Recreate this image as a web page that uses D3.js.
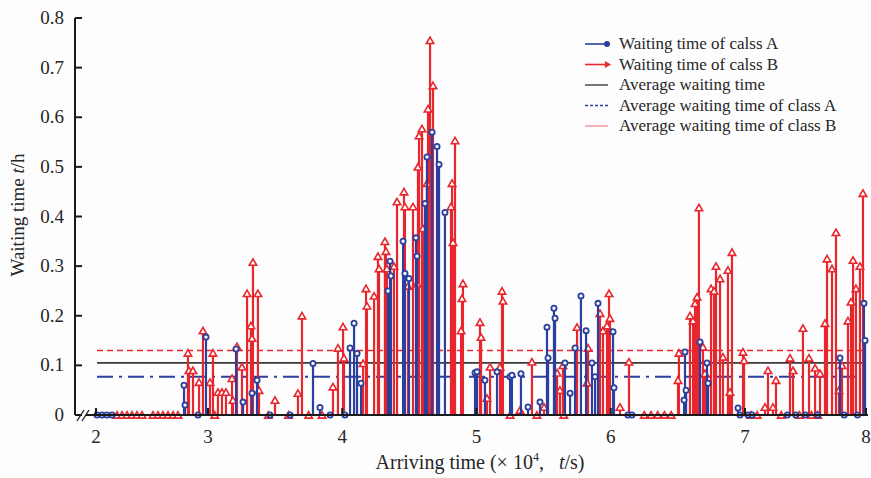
<!DOCTYPE html>
<html>
<head>
<meta charset="utf-8">
<script src="https://cdn.jsdelivr.net/npm/d3@7"></script>
<style>
	body { margin: 0; background: #fdfdfd; }
	svg { display: block; font-family: "Liberation Serif", "Times New Roman", serif; }
</style>
</head>
<body>
<svg id="chart" width="871" height="478"></svg>
<script>
// arriving time (x 10^4 s) and waiting time (h) for class A (blue circles)
var classAX = [2.009, 2.054, 2.098, 2.143, 2.786, 2.795, 2.911, 2.982, 3.209, 3.261, 3.328, 3.365,
	3.462, 3.611, 3.782, 3.834, 3.909, 4.020, 4.058, 4.088, 4.110, 4.140, 4.341, 4.356, 4.363,
	4.453, 4.467, 4.497, 4.549, 4.557, 4.616, 4.631, 4.669, 4.706, 4.721, 4.765, 4.989, 5.004,
	5.063, 5.153, 5.250, 5.264, 5.331, 5.384, 5.473, 5.525, 5.533, 5.577, 5.585, 5.659, 5.697,
	5.734, 5.778, 5.816, 5.860, 5.883, 5.905, 6.017, 6.024, 6.128, 6.158, 6.546, 6.553, 6.561,
	6.665, 6.717, 6.725, 6.948, 6.963, 7.025, 7.058, 7.350, 7.420, 7.500, 7.600, 7.785, 7.820,
	7.930, 7.983, 7.992];
var classAY = [0, 0, 0, 0, 0.06, 0.02, 0, 0.157, 0.133, 0.026, 0.044, 0.07,
	0, 0, 0.104, 0.015, 0, 0, 0.135, 0.185, 0.124, 0.064, 0.25, 0.31, 0.28,
	0.35, 0.285, 0.275, 0.357, 0.32, 0.426, 0.52, 0.57, 0.541, 0.505, 0.408, 0.085, 0.087,
	0.07, 0.087, 0.077, 0.08, 0.083, 0.016, 0.026, 0.177, 0.115, 0.215, 0.195, 0.105, 0.044,
	0.135, 0.24, 0.17, 0.105, 0.077, 0.225, 0.168, 0.055, 0, 0, 0.03, 0.127, 0.05,
	0.147, 0.105, 0.064, 0.014, 0, 0, 0, 0, 0, 0, 0, 0.115, 0,
	0, 0.225, 0.15];

// class B (red triangles)
var classBX = [2.188, 2.232, 2.277, 2.321, 2.366, 2.411, 2.509, 2.554, 2.598, 2.643, 2.688, 2.732,
	2.821, 2.830, 2.866, 2.920, 2.955, 3.015, 3.037, 3.050, 3.074, 3.104, 3.134, 3.179, 3.186,
	3.216, 3.253, 3.291, 3.320, 3.328, 3.335, 3.372, 3.380, 3.450, 3.499, 3.600, 3.670, 3.700,
	3.750, 3.850, 3.931, 3.968, 4.006, 4.013, 4.155, 4.177, 4.184, 4.237, 4.266, 4.274, 4.318,
	4.326, 4.333, 4.385, 4.408, 4.460, 4.467, 4.490, 4.527, 4.557, 4.564, 4.572, 4.594, 4.601,
	4.631, 4.639, 4.654, 4.676, 4.810, 4.818, 4.825, 4.840, 4.885, 4.892, 4.899, 5.026, 5.034,
	5.078, 5.101, 5.175, 5.190, 5.197, 5.250, 5.324, 5.413, 5.450, 5.503, 5.600, 5.622, 5.644,
	5.650, 5.749, 5.823, 5.831, 5.920, 5.942, 5.972, 5.987, 5.994, 6.069, 6.136, 6.250, 6.300,
	6.350, 6.400, 6.450, 6.501, 6.508, 6.590, 6.613, 6.628, 6.643, 6.657, 6.687, 6.702, 6.747,
	6.769, 6.784, 6.814, 6.836, 6.873, 6.888, 6.903, 6.985, 6.993, 7.050, 7.100, 7.165, 7.190,
	7.231, 7.256, 7.300, 7.372, 7.397, 7.450, 7.479, 7.529, 7.550, 7.579, 7.600, 7.620, 7.661,
	7.678, 7.719, 7.752, 7.777, 7.802, 7.851, 7.876, 7.893, 7.917, 7.950, 7.975];
var classBY = [0, 0, 0, 0, 0, 0, 0, 0, 0, 0, 0, 0,
	0.125, 0.09, 0.09, 0.066, 0.17, 0.066, 0.125, 0, 0.046, 0.046, 0.046, 0.074, 0.03,
	0.138, 0.097, 0.245, 0.18, 0.155, 0.308, 0.245, 0.05, 0, 0.03, 0, 0.044, 0.2,
	0, 0, 0.057, 0.135, 0.178, 0.115, 0.104, 0.255, 0.22, 0.24, 0.32, 0.295, 0.35,
	0.33, 0.295, 0.3, 0.43, 0.45, 0.42, 0.26, 0.42, 0.265, 0.5, 0.563, 0.577, 0.376,
	0.467, 0.617, 0.755, 0.664, 0.42, 0.467, 0.348, 0.553, 0.17, 0.235, 0.265, 0.187, 0.157,
	0.034, 0.097, 0.097, 0.25, 0.23, 0, 0.01, 0.107, 0, 0.016, 0.085, 0.05, 0.1,
	0, 0.177, 0.065, 0.135, 0.205, 0.17, 0.18, 0.245, 0.195, 0.016, 0.107, 0, 0,
	0, 0, 0, 0.07, 0.125, 0.2, 0.19, 0.225, 0.238, 0.418, 0.137, 0.084, 0.255,
	0.25, 0.3, 0.275, 0.117, 0.292, 0.046, 0.328, 0.127, 0.11, 0, 0, 0.016, 0.09,
	0.016, 0.07, 0, 0.115, 0.09, 0, 0.175, 0.115, 0, 0.095, 0, 0.084, 0.185,
	0.315, 0.295, 0.368, 0.05, 0.1, 0.19, 0.228, 0.312, 0.255, 0.3, 0.447];

// averages (h)
var avgAll = 0.105;
var avgA = 0.077;
var avgB = 0.13;

var xTicks = [2, 3, 4, 5, 6, 7, 8];
var yTicks = [0, 0.1, 0.2, 0.3, 0.4, 0.5, 0.6, 0.7, 0.8];

var legendLabels = [
	"Waiting time of calss A",
	"Waiting time of calss B",
	"Average waiting time",
	"Average waiting time of class A",
	"Average waiting time of class B"
];

var BLUE = "#2b3f9e";
var RED = "#e8262d";
var TEXT = "#262626";

var svg = d3.select("#chart");

// the axis is broken after 2, so the scale is piecewise
var x = d3.scaleLinear().domain([2, 3, 7, 8]).range([96, 208, 745, 866]);
var y = d3.scaleLinear().domain([0, 0.8]).range([415, 18]);

var gPlot = svg.append("g");

// average lines
var avgLine = function (value, color, dash, width) {
	gPlot.append("line")
		.attr("x1", 97).attr("x2", x(8))
		.attr("y1", y(value)).attr("y2", y(value))
		.attr("stroke", color)
		.attr("stroke-width", width)
		.attr("stroke-dasharray", dash);
};
avgLine(avgB, RED, "6,4", 1.6);
avgLine(avgAll, "#3a3a3a", null, 1.6);
avgLine(avgA, BLUE, "16,6,3,6", 2);

var triangle = d3.symbol().type(d3.symbolTriangle).size(24);

var drawStems = function (xs, ys, color, isCircle) {
	var data = xs.map(function (d, i) { return [d, ys[i]]; });
	var g = gPlot.append("g");
	g.selectAll("line").data(data).enter().append("line")
		.attr("x1", function (d) { return x(d[0]); })
		.attr("x2", function (d) { return x(d[0]); })
		.attr("y1", y(0))
		.attr("y2", function (d) { return y(d[1]); })
		.attr("stroke", color)
		.attr("stroke-width", 2.2);
	if (isCircle) {
		g.selectAll("circle").data(data).enter().append("circle")
			.attr("cx", function (d) { return x(d[0]); })
			.attr("cy", function (d) { return y(d[1]); })
			.attr("r", 2.6)
			.attr("fill", "#fdfdfd")
			.attr("stroke", color)
			.attr("stroke-width", 1.8);
	} else {
		g.selectAll("path").data(data).enter().append("path")
			.attr("d", triangle)
			.attr("transform", function (d) { return "translate(" + x(d[0]) + "," + (y(d[1]) + 1) + ")"; })
			.attr("fill", "#fdfdfd")
			.attr("stroke", color)
			.attr("stroke-width", 1.6);
	}
};
drawStems(classBX, classBY, RED, false);
drawStems(classAX, classAY, BLUE, true);

// axes
var gAxes = svg.append("g").attr("stroke", "#1a1a1a").attr("stroke-width", 2).attr("fill", "none");
gAxes.append("line").attr("x1", 75).attr("x2", 75).attr("y1", y(0.8)).attr("y2", y(0));
gAxes.append("line").attr("x1", 75).attr("x2", 80).attr("y1", y(0)).attr("y2", y(0));
gAxes.append("line").attr("x1", 86).attr("x2", x(8) + 2).attr("y1", y(0)).attr("y2", y(0));
// axis break
gAxes.append("line").attr("x1", 77).attr("x2", 84).attr("y1", y(0) + 6).attr("y2", y(0) - 5).attr("stroke-width", 1.3);
gAxes.append("line").attr("x1", 82).attr("x2", 89).attr("y1", y(0) + 6).attr("y2", y(0) - 5).attr("stroke-width", 1.3);

yTicks.forEach(function (t) {
	gAxes.append("line").attr("x1", 75).attr("x2", 82).attr("y1", y(t)).attr("y2", y(t));
	svg.append("text")
		.attr("x", 64).attr("y", y(t) + 6)
		.attr("text-anchor", "end")
		.attr("font-size", "19px")
		.attr("fill", TEXT)
		.text(t === 0 ? "0" : d3.format(".1f")(t));
});
xTicks.forEach(function (t) {
	gAxes.append("line").attr("x1", x(t)).attr("x2", x(t)).attr("y1", y(0)).attr("y2", y(0) - 7);
	svg.append("text")
		.attr("x", x(t)).attr("y", 443)
		.attr("text-anchor", "middle")
		.attr("font-size", "19px")
		.attr("fill", TEXT)
		.text(t);
});

// axis titles
var yTitle = svg.append("text")
	.attr("transform", "translate(24,215) rotate(-90)")
	.attr("text-anchor", "middle")
	.attr("font-size", "19px")
	.attr("fill", TEXT);
yTitle.append("tspan").text("Waiting time ");
yTitle.append("tspan").attr("font-style", "italic").text("t");
yTitle.append("tspan").text("/h");

var xTitle = svg.append("text")
	.attr("x", 480).attr("y", 469)
	.attr("text-anchor", "middle")
	.attr("font-size", "20px")
	.attr("fill", TEXT);
xTitle.append("tspan").text("Arriving time (\u00d7 10");
xTitle.append("tspan").attr("font-size", "12px").attr("dy", -8).text("4");
xTitle.append("tspan").attr("dy", 8).text(",\u2002 ");
xTitle.append("tspan").attr("font-style", "italic").text("t");
xTitle.append("tspan").text("/s)");

// legend
var gLegend = svg.append("g");
var legendStyles = [
	{color: BLUE, dash: null, marker: "circle"},
	{color: RED, dash: null, marker: "triangle"},
	{color: "#555", dash: null, marker: null},
	{color: BLUE, dash: "3,2", marker: null},
	{color: "#f3a0a4", dash: null, marker: null}
];
legendLabels.forEach(function (label, i) {
	var ly = 44 + i * 20.5;
	var st = legendStyles[i];
	gLegend.append("line")
		.attr("x1", 585).attr("x2", 608)
		.attr("y1", ly).attr("y2", ly)
		.attr("stroke", st.color)
		.attr("stroke-width", 1.6)
		.attr("stroke-dasharray", st.dash);
	if (st.marker === "circle") {
		gLegend.append("circle").attr("cx", 607).attr("cy", ly).attr("r", 3).attr("fill", st.color);
	} else if (st.marker === "triangle") {
		gLegend.append("path")
			.attr("d", d3.symbol().type(d3.symbolTriangle).size(22))
			.attr("transform", "translate(607," + ly + ") rotate(90)")
			.attr("fill", st.color);
	}
	gLegend.append("text")
		.attr("x", 619).attr("y", ly + 5)
		.attr("font-size", "17px")
		.attr("fill", TEXT)
		.text(label);
});
</script>
</body>
</html>
